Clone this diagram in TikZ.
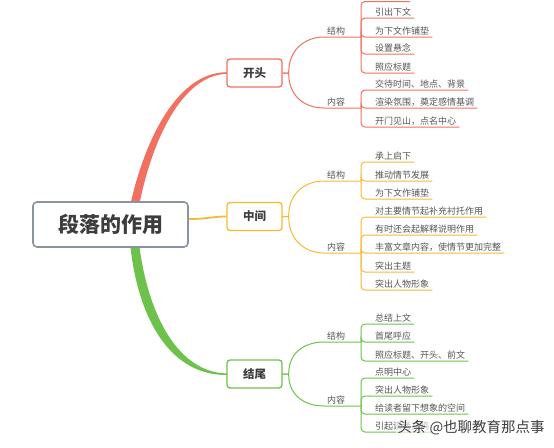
\documentclass[tikz,border=0pt]{standalone}
\usepackage{fontspec}
\newfontfamily\cjk{Noto Sans CJK SC}
\usetikzlibrary{positioning, calc}
\definecolor{kred}{HTML}{F2705F}
\definecolor{kyel}{HTML}{F6B932}
\definecolor{kgrn}{HTML}{6DC24B}
\definecolor{kgray}{HTML}{8A93A3}
\definecolor{ktext}{HTML}{555555}
\definecolor{kdark}{HTML}{3D3D3D}

\begin{document}
\begin{tikzpicture}[x=1pt, y=-1pt, font=\cjk,
  rootbox/.style={draw=kgray, line width=1.6pt, rounded corners=4pt, fill=white,
    minimum width=155pt, minimum height=45pt, text=kdark,
    font=\cjk\bfseries\fontsize{21}{24}\selectfont},
  partbox/.style={draw=#1, line width=1.3pt, rounded corners=3pt, fill=white,
    minimum width=55pt, minimum height=28pt, text=kdark,
    font=\cjk\bfseries\fontsize{11.5}{13}\selectfont},
  sublabel/.style={anchor=south, inner xsep=3pt, inner ysep=1.5pt, text=ktext,
    font=\cjk\fontsize{9}{10}\selectfont},
  leaf/.style={anchor=south west, inner xsep=0pt, inner ysep=1.5pt, text=ktext,
    font=\cjk\fontsize{9}{10}\selectfont},
  twig/.style={draw=#1, line width=1pt, rounded corners=4pt},
  wmark/.style={text=kdark, fill=white, fill opacity=0.6, text opacity=1,
    inner sep=1pt, font=\cjk\fontsize{14.5}{16}\selectfont},
]
\useasboundingbox (0,0) rectangle (554,447);

% main branches
\fill[kred] (130,206) .. controls (145,138) and (178,72) .. (227,72.2)
  -- (227,73.8) .. controls (182,75) and (152,140) .. (139,206) -- cycle;
\fill[kgrn] (130,243) .. controls (138,322) and (172,375.6) .. (227,375)
  -- (227,373.4) .. controls (180,373) and (148,318) .. (139,243) -- cycle;

\node[rootbox] (root) at (110.5,224.5) {段落的作用};
\node[partbox=kred] (kt) at (254.5,73) {开头};
\node[partbox=kyel] (zj) at (254.5,216.5) {中间};
\node[partbox=kgrn] (jw) at (254.5,374) {结尾};

\draw[kyel, line width=1.8pt] (root.4) .. controls (208,219) and (212,216.5) .. (zj.west);

% 开头
\node[sublabel] (kt1) at (336,37) {结构};
\node[sublabel] (kt2) at (336,108) {内容};
\coordinate (kt1j) at (361,37);
\coordinate (kt2j) at (361,108);
\coordinate (kt1c) at (410,1.5);
\draw[kred, line width=1pt] (kt.east) -- ++(6,0) .. controls +(0,-26) and +(-16,0) .. (kt1.south west) -- (kt1j);
\draw[kred, line width=1pt] (kt.east) -- ++(6,0) .. controls +(0,26) and +(-16,0) .. (kt2.south west) -- (kt2j);
\draw[twig=kred] (kt1j) |- (kt1c);
\foreach \t/\y [count=\i] in {引出下文/18, 为下文作铺垫/37, 设置悬念/54, 照应标题/73} {
  \node[leaf] (kt1\i) at (375,\y) {\t};
  \draw[twig=kred] (kt1j) |- ($(kt1\i.south east)+(3,0)$);
}
\foreach \t/\y [count=\i] in {交待时间、地点、背景/90, 渲染氛围，奠定感情基调/108, 开门见山，点名中心/127} {
  \node[leaf] (kt2\i) at (375,\y) {\t};
  \draw[twig=kred] (kt2j) |- ($(kt2\i.south east)+(3,0)$);
}

% 中间
\node[sublabel] (zj1) at (336,181) {结构};
\node[sublabel] (zj2) at (336,253) {内容};
\coordinate (zj1j) at (361,181);
\coordinate (zj2j) at (361,253);
\draw[kyel, line width=1pt] (zj.east) -- ++(6,0) .. controls +(0,-26) and +(-16,0) .. (zj1.south west) -- (zj1j);
\draw[kyel, line width=1pt] (zj.east) -- ++(6,0) .. controls +(0,26) and +(-16,0) .. (zj2.south west) -- (zj2j);
\foreach \t/\y [count=\i] in {承上启下/162, 推动情节发展/181, 为下文作铺垫/199} {
  \node[leaf] (zj1\i) at (375,\y) {\t};
  \draw[twig=kyel] (zj1j) |- ($(zj1\i.south east)+(3,0)$);
}
\foreach \t/\y [count=\i] in {对主要情节起补充衬托作用/217, 有时还会起解释说明作用/235,
    丰富文章内容，使情节更加完整/253, 突出主题/272, 突出人物形象/290} {
  \node[leaf] (zj2\i) at (375,\y) {\t};
  \draw[twig=kyel] (zj2j) |- ($(zj2\i.south east)+(3,0)$);
}

% 结尾
\node[sublabel] (jw1) at (336,342) {结构};
\node[sublabel] (jw2) at (336,406) {内容};
\coordinate (jw1j) at (361,342);
\coordinate (jw2j) at (361,406);
\draw[kgrn, line width=1pt] (jw.east) -- ++(6,0) .. controls +(0,-24) and +(-16,0) .. (jw1.south west) -- (jw1j);
\draw[kgrn, line width=1pt] (jw.east) -- ++(6,0) .. controls +(0,24) and +(-16,0) .. (jw2.south west) -- (jw2j);
\foreach \t/\y [count=\i] in {总结上文/324, 首尾呼应/342, 照应标题、开头、前文/361} {
  \node[leaf] (jw1\i) at (375,\y) {\t};
  \draw[twig=kgrn] (jw1j) |- ($(jw1\i.south east)+(3,0)$);
}
\foreach \t/\y [count=\i] in {点明中心/378, 突出人物形象/396, 给读者留下想象的空间/414, 引起读者共鸣/432} {
  \node[leaf] (jw2\i) at (375,\y) {\t};
  \draw[twig=kgrn] (jw2j) |- ($(jw2\i.south east)+(3,0)$);
}

\node[wmark] (wm) at (471,428) {头条 @也聊教育那点事};
\end{tikzpicture}
\end{document}
